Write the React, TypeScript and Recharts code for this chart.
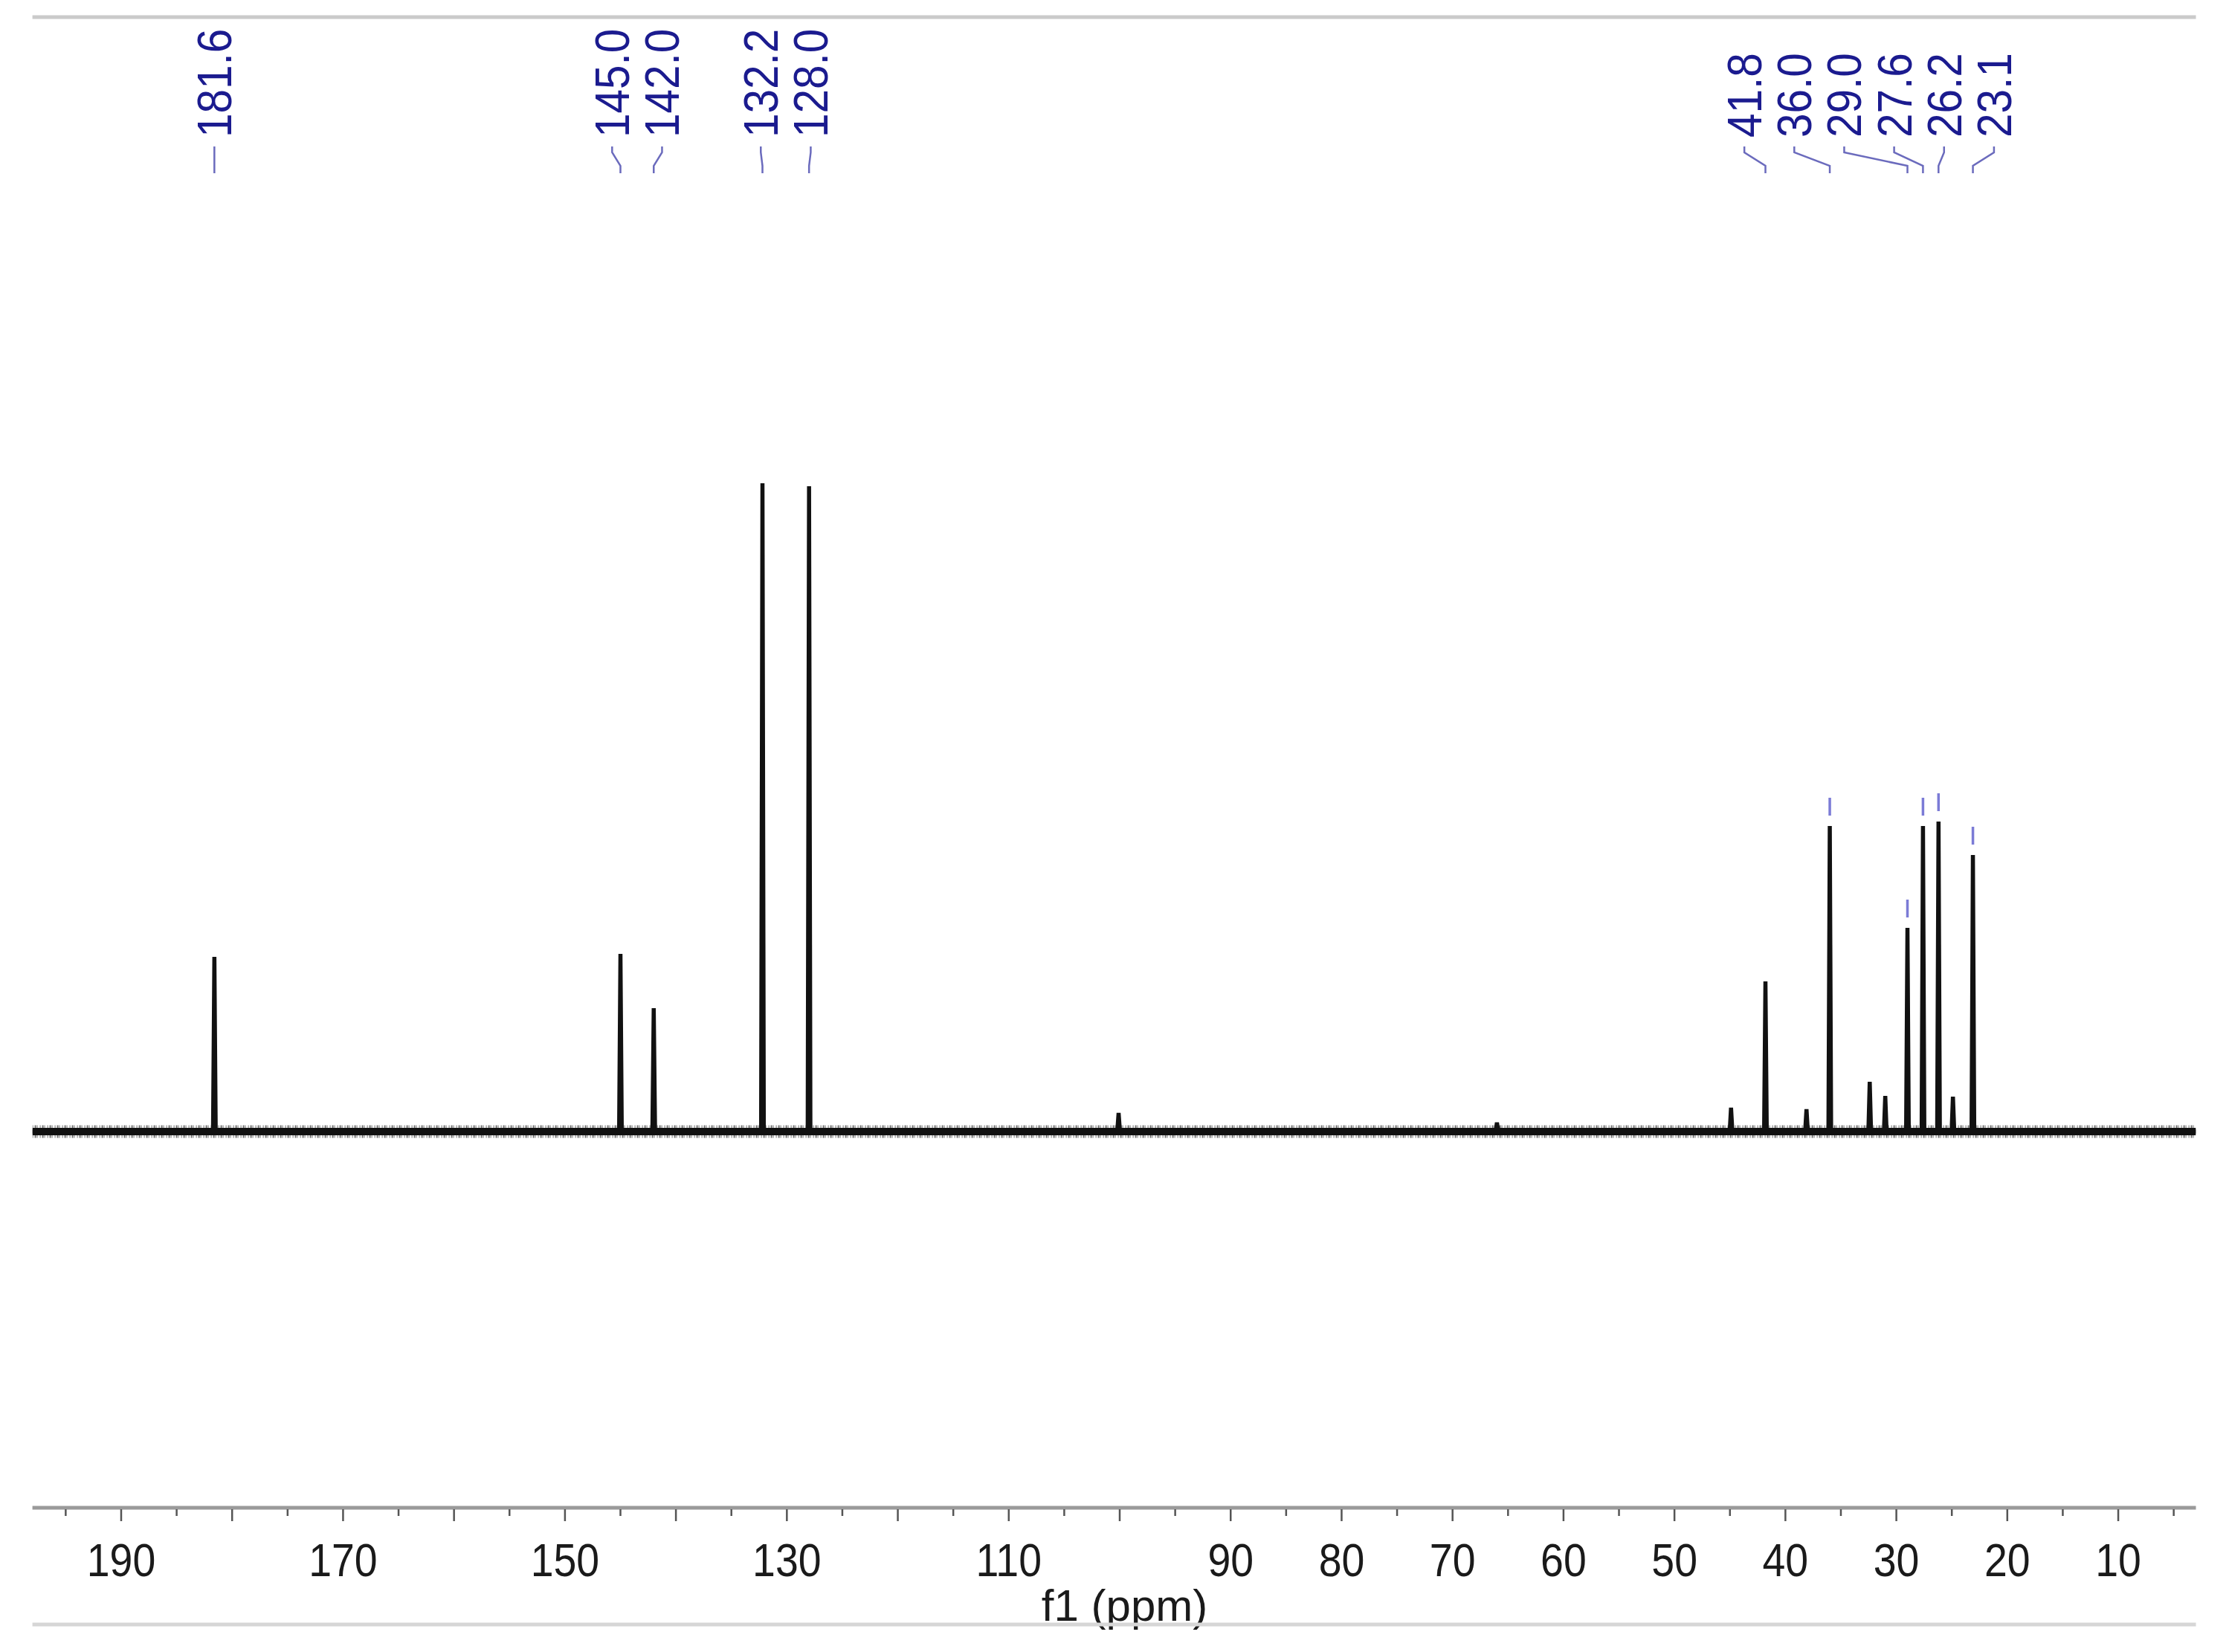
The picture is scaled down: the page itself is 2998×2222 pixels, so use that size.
import { ComposedChart, Label, Line, Scatter, XAxis, YAxis } from 'recharts'

// 13C NMR spectrum, f1 in ppm; heights in arbitrary intensity units
const PEAK_PPM = [181.6, 145.0, 142.0, 132.2, 128.0, 100.1, 66.0, 44.9, 41.8, 38.1, 36.0, 32.4, 31.0, 29.0, 27.6, 26.2, 24.9, 23.1]
const PEAK_HEIGHT = [235, 239, 166, 872, 868, 25, 12, 32, 202, 30, 411, 67, 48, 274, 411, 417, 47, 372]
const PEAK_LABELS = ['181.6', '145.0', '142.0', '132.2', '128.0', '41.8', '36.0', '29.0', '27.6', '26.2', '23.1']
const MARKED_PEAKS = ['36.0', '29.0', '27.6', '26.2', '23.1']
const TICK_LABELS = [190, 170, 150, 130, 110, 90, 80, 70, 60, 50, 40, 30, 20, 10]

const X_DOMAIN: [number, number] = [3, 198]
const Y_DOMAIN: [number, number] = [-506, 1499]
const TICKS = Array.from({length: 39}, (_, i) => 5 + i * 5)

const FONT = '"Liberation Sans", Arial, Helvetica, sans-serif'
const LABEL_BLUE = '#1b1b8f'
const LINK_BLUE = '#6b6bbd'

// label anchor / connector levels (y units)
const LABEL_Y = 1337
const LINK_Y = [1325, 1317, 1299, 1289]
const LABEL_GAP = 4.5
const HALF_WIDTH = 0.12

const heightOf = (ppm: number) => PEAK_HEIGHT[PEAK_PPM.indexOf(ppm)]

// spread crowded labels apart like the NMR software does
function spreadLabels(ppms: number[], gap: number): number[] {
  let clusters = ppms.map((_, i) => [i])
  const place = (c: number[]) => {
    const mid = (ppms[c[0]] + ppms[c[c.length - 1]]) / 2
    return c.map((_, k) => mid + ((c.length - 1) / 2 - k) * gap)
  }
  let merged = true
  while (merged) {
    merged = false
    for (let i = 0; i < clusters.length - 1; i++) {
      const a = place(clusters[i])
      const b = place(clusters[i + 1])
      if (a[a.length - 1] - b[0] < gap) {
        clusters.splice(i, 2, [...clusters[i], ...clusters[i + 1]])
        merged = true
        break
      }
    }
  }
  const out: number[] = []
  clusters.forEach(c => place(c).forEach((v, k) => { out[c[k]] = v }))
  return out
}

const spectrum: { x: number, y: number }[] = [{x: X_DOMAIN[1], y: 0}]
PEAK_PPM.forEach((p, i) => {
  spectrum.push({x: p + HALF_WIDTH, y: 0}, {x: p, y: PEAK_HEIGHT[i]}, {x: p - HALF_WIDTH, y: 0})
})
spectrum.push({x: X_DOMAIN[0], y: 0})

const baseline = [{x: X_DOMAIN[1], y: 0}, {x: X_DOMAIN[0], y: 0}]

const labelPpm = PEAK_LABELS.map(t => parseFloat(t))
const labelX = spreadLabels(labelPpm, LABEL_GAP)
const labelPoints = PEAK_LABELS.map((t, i) => ({x: labelX[i], y: LABEL_Y, text: t}))

const connectors: { x: number, y: number | null }[] = []
labelPpm.forEach((p, i) => {
  connectors.push(
    {x: labelX[i], y: LINK_Y[0]},
    {x: labelX[i], y: LINK_Y[1]},
    {x: p, y: LINK_Y[2]},
    {x: p, y: LINK_Y[3]},
    {x: p, y: null},
  )
})

const markers = MARKED_PEAKS.map(t => ({x: parseFloat(t), y: heightOf(parseFloat(t))}))

const PeakLabel = (props: any) => {
  const {cx, cy, payload} = props
  return (
    <text transform={`translate(${cx},${cy}) rotate(-90) scale(0.9,1)`} x={0} y={23}
          fontSize={65} fontFamily={FONT} fill={LABEL_BLUE}>
      {payload.text}
    </text>
  )
}

const Marker = (props: any) => {
  const {cx, cy} = props
  return <line x1={cx} x2={cx} y1={cy - 38} y2={cy - 14} stroke="#7b7bd6" strokeWidth={3.5}/>
}

const AxisTick = (props: any) => {
  const {x, y, payload} = props
  const v = payload.value
  const major = v % 10 === 0
  return (
    <g>
      <line x1={x} x2={x} y1={y + 2} y2={y + (major ? 18 : 11)} stroke="#555" strokeWidth={2.5}/>
      {TICK_LABELS.includes(v) && (
        <text transform={`translate(${x},${y + 92}) scale(0.88,1)`} textAnchor="middle"
              fontSize={63} fontFamily={FONT} fill="#1a1a1a">
          {v}
        </text>
      )}
    </g>
  )
}

const AxisTitle = (props: any) => {
  const vb = props.viewBox
  return (
    <text x={vb.x + vb.width / 2 + 14} y={2180} textAnchor="middle" fontSize={60} fontFamily={FONT} fill="#1a1a1a">
      f1 (ppm)
    </text>
  )
}

export default function App() {
  return (
    <div style={{position: 'absolute', left: 0, top: 0, width: 2998, height: 2222, background: '#fff'}}>
      <ComposedChart width={2998} height={2222} margin={{top: 0, right: 44.5, bottom: 31, left: 43.6}}>
        <XAxis dataKey="x" type="number" domain={X_DOMAIN} reversed allowDataOverflow
               ticks={TICKS} interval={0} tick={<AxisTick/>} tickLine={false} tickSize={0} tickMargin={0}
               height={157} axisLine={{stroke: '#9a9a9a', strokeWidth: 5}}>
          <Label content={<AxisTitle/>}/>
        </XAxis>
        <XAxis xAxisId="frame" dataKey="x" type="number" domain={X_DOMAIN} reversed allowDataOverflow
               tick={false} tickLine={false} height={6} axisLine={{stroke: '#d6d6d6', strokeWidth: 5}}/>
        <XAxis xAxisId="top" orientation="top" dataKey="x" type="number" domain={X_DOMAIN} reversed allowDataOverflow
               tick={false} tickLine={false} height={23} axisLine={{stroke: '#cacaca', strokeWidth: 5}}/>
        <YAxis hide dataKey="y" type="number" domain={Y_DOMAIN} allowDataOverflow/>

        <Line data={baseline} dataKey="y" type="linear" stroke="#000" strokeOpacity={0.55} strokeWidth={17}
              strokeDasharray="1 2 2 1 1 3" dot={false} activeDot={false} isAnimationActive={false}/>
        <Line data={baseline} dataKey="y" type="linear" stroke="#111" strokeWidth={10}
              dot={false} activeDot={false} isAnimationActive={false}/>
        <Line data={spectrum} dataKey="y" type="linear" stroke="#111" strokeWidth={5.5}
              dot={false} activeDot={false} isAnimationActive={false}/>

        <Scatter data={markers} dataKey="y" shape={(p: any) => <Marker {...p}/>} isAnimationActive={false}/>
        <Line data={connectors} dataKey="y" type="linear" stroke={LINK_BLUE} strokeWidth={2.5}
              connectNulls={false} dot={false} activeDot={false} isAnimationActive={false}/>
        <Scatter data={labelPoints} dataKey="y" shape={(p: any) => <PeakLabel {...p}/>} isAnimationActive={false}/>
      </ComposedChart>
    </div>
  )
}
